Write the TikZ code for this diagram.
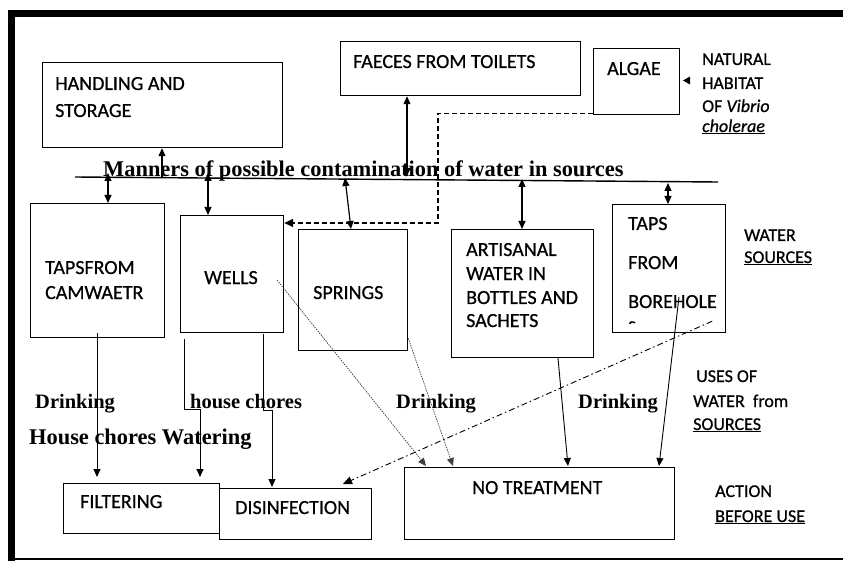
\documentclass[tikz,border=0pt]{standalone}
\usepackage{fontspec}
\setmainfont{Carlito}[FakeBold=0.7]
\newfontfamily\tnr{Liberation Serif}
\usetikzlibrary{arrows.meta,calc}
\begin{document}
\begin{tikzpicture}[x=1pt,y=-1pt,
  box/.style={draw, line width=1.2pt, inner sep=0pt, anchor=north west},
  txt/.style={anchor=base west, inner sep=0pt, font=\fontsize{20}{24}\selectfont},
  side/.style={anchor=base west, inner sep=0pt, font=\fontsize{18}{22}\selectfont},
  use/.style={anchor=base west, inner sep=0pt, font=\tnr\bfseries\fontsize{20.5}{24}\selectfont},
  ttl/.style={anchor=base west, inner sep=0pt, font=\tnr\bfseries\fontsize{22.4}{26}\selectfont},
  arr/.style={-{Triangle[length=8pt,width=7pt]}, line width=0.9pt},
  darr/.style={{Triangle[length=8pt,width=7pt]}-{Triangle[length=8pt,width=7pt]}, line width=1.2pt},
  dots/.style={-{Triangle[length=8pt,width=7pt]}, line width=0.7pt, draw=black!75, dash pattern=on 1.5pt off 1pt},
  dashdot/.style={-{Triangle[length=9pt,width=8pt]}, line width=0.9pt, dash pattern=on 6pt off 3pt on 1.5pt off 3pt},
  dsh/.style={-{Triangle[length=9pt,width=8pt]}, line width=1.3pt, dash pattern=on 5pt off 3pt}]
\useasboundingbox (0,0) rectangle (843,561);
% frame
\fill (8,10) rectangle (843,17);
\fill (8,10) rectangle (15,561);
\draw[line width=1.6pt] (15,559) -- (843,559);

% boxes
\node[box, minimum width=240pt, minimum height=85pt] (hand) at (42,62) {};
\node[box, minimum width=240pt, minimum height=54pt] (faeces) at (340,41) {};
\node[box, minimum width=86pt, minimum height=66pt] (algae) at (593,48) {};
\node[box, minimum width=134pt, minimum height=134pt] (tapsc) at (30,203) {};
\node[box, minimum width=103pt, minimum height=117pt] (wells) at (180,215) {};
\node[box, minimum width=109pt, minimum height=121pt] (springs) at (298,229) {};
\node[box, minimum width=142pt, minimum height=128pt] (artis) at (451,229) {};
\node[box, minimum width=113pt, minimum height=128pt] (bore) at (612,204) {};
\node[box, minimum width=156pt, minimum height=50pt] (filt) at (63,483) {};
\node[box, minimum width=152pt, minimum height=51pt, line width=1.4pt] (disinf) at (219,488) {};
\node[box, minimum width=270pt, minimum height=72pt] (notreat) at (404,467) {};

% box texts
\node[txt] (t-hand1) at (55,90) {HANDLING AND};
\node[txt] (t-hand2) at (55,117) {STORAGE};
\node[txt] (t-faeces) at (353,68) {FAECES FROM TOILETS};
\node[txt] (t-algae) at (607,75) {ALGAE};
\node[txt] (t-tapsc1) at (45,274) {TAPSFROM};
\node[txt] (t-tapsc2) at (45,299) {CAMWAETR};
\node[txt] (t-wells) at (204,284) {WELLS};
\node[txt] (t-springs) at (313,299) {SPRINGS};
\node[txt] (t-art1) at (466,256) {ARTISANAL};
\node[txt] (t-art2) at (466,280) {WATER IN};
\node[txt] (t-art3) at (466,304) {BOTTLES AND};
\node[txt] (t-art4) at (466,327) {SACHETS};
\node[txt] (t-bore1) at (628,230) {TAPS};
\node[txt] (t-bore2) at (628,269) {FROM};
\node[txt] (t-bore3) at (628,308) {BOREHOLE};
\begin{scope}
\clip (613,205) rectangle (724,323.5);
\node[txt] (t-bore4) at (628,331) {s};
\end{scope}
\node[txt] (t-filt) at (80,508) {FILTERING};
\node[txt] (t-dis) at (235,514) {DISINFECTION};
\node[txt] (t-nt) at (472,494) {NO TREATMENT};

% side texts
\node[side] (n1) at (702,65) {NATURAL};
\node[side] (n2) at (702,89) {HABITAT};
\node[side] (n3) at (702,112) {OF \textit{Vibrio}};
\node[side] (n4) at (702,132) {\underline{\textit{cholerae}}};
\fill (683,80.5) -- (690,76.5) -- (690,84.5) -- cycle;
\node[side] (ws1) at (744,241) {WATER};
\node[side] (ws2) at (744,263) {\underline{SOURCES}};
\node[side] (u1) at (696,382) {USES OF};
\node[side] (u2) at (693,407) {WATER\ \ from};
\node[side] (u3) at (693,430) {\underline{SOURCES}};
\node[side] (a1) at (715,497) {ACTION};
\node[side] (a2) at (715,522) {\underline{BEFORE USE}};

% use labels
\node[ttl] (title) at (103,177) {Manners of possible contamination of water in sources};
\node[use] (d1) at (35,408) {Drinking};
\node[use] (hc) at (190,408) {house chores};
\node[ttl] (hcw) at (29,444) {House chores Watering};
\node[use] (d2) at (396,408) {Drinking};
\node[use] (d3) at (578,408) {Drinking};

% contamination line
\coordinate (hlw) at (75,177);
\coordinate (hle) at (718,182);
\draw[line width=1.4pt] (hlw) -- (hle);

% vertical arrows to the line
\draw[arr, line width=1.1pt] (162,177) -- ($(hand.south west)+(120,0)$);
\draw[darr] (108,173) -- ($(tapsc.north west)+(78,0)$);
\draw[darr] (208,173) -- ($(wells.north west)+(28,0)$);
\draw[darr] (345,178) -- ($(springs.north west)+(53,0)$);
\draw[darr] ($(faeces.south west)+(67,0)$) -- (407,176);
\draw[darr] (522,179) -- ($(artis.north west)+(71,0)$);
\draw[darr] (668,183) -- ($(bore.north west)+(56,0)$);

% dashed link algae -> wells
\coordinate (dk) at (438,223);
\draw[dsh] ($(algae.south west)+(0,-2)$) -| (dk) -- ($(wells.north east)+(0,8)$);

% uses -> actions
\draw[arr] ($(tapsc.south west)+(67,-5)$) -- ($(filt.north west)+(34,-6)$);
\coordinate (wl) at (200,409);
\draw[arr] ($(wells.south west)+(4,6)$) |- (wl) -- ($(filt.north west)+(137,-6)$);
\coordinate (wr) at (272,410);
\draw[arr] ($(wells.south west)+(83,1)$) |- (wr) -- ($(disinf.north west)+(53,-1)$);
\draw[dots] ($(wells.north west)+(97,65)$) -- ($(notreat.north west)+(22,-1)$);
\draw[dots] ($(springs.south east)+(0,-13)$) -- ($(notreat.north west)+(49,-1)$);
\draw[arr] ($(artis.south west)+(107,0)$) -- ($(notreat.north west)+(164,-1)$);
\draw[arr] ($(bore.north west)+(67,93)$) -- ($(notreat.north west)+(255,-1)$);
\draw[dashdot] ($(bore.south east)+(-14,-12)$) -- ($(disinf.north west)+(124,-4)$);
\end{tikzpicture}
\end{document}
